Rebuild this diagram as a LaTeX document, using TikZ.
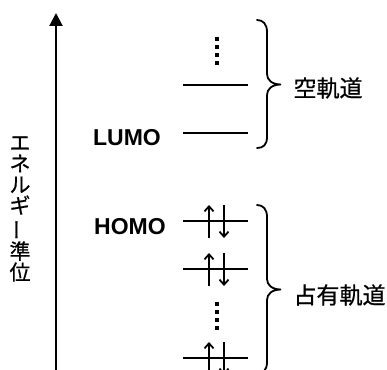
\documentclass[tikz,border=0pt]{standalone}
\usepackage{fontspec}
\setmainfont{Liberation Sans}
\newfontfamily\jp[FakeBold=0.6]{Noto Sans CJK JP}
\usetikzlibrary{arrows.meta}
\begin{document}
\begin{tikzpicture}[x=1pt,y=-1pt,
  level/.style={line width=2.4pt},
  spin/.style={line width=2pt,-{Straight Barb[length=5pt,width=9pt,line width=1.8pt]}},
  vdots/.style={line width=4pt,dash pattern=on 4pt off 4pt},
  brace/.style={line width=1.8pt,line cap=round},
  mo/.style={font=\fontsize{23}{23}\selectfont\bfseries},
  jplabel/.style={font=\jp\fontsize{23}{23}\selectfont},
  axis/.style={line width=2.2pt,-{Triangle[length=13pt,width=13pt]}}]
\useasboundingbox (0,0) rectangle (387,369);
% energy axis
\coordinate (axbot) at (56,372);
\coordinate (axtop) at (56,13);
\draw[axis] (axbot) -- (axtop);
\node[font=\jp\fontsize{21}{21}\selectfont,align=center,inner sep=0pt] (elabel) at (20,209)
  {エ\\ネ\\ル\\ギ\\\rotatebox[origin=c]{90}{ー}\\準\\位};
% unoccupied levels
\coordinate (u1a) at (183,85);  \coordinate (u1b) at (248,85);
\coordinate (u2a) at (183,133); \coordinate (u2b) at (248,133);
\draw[level] (u1a) -- (u1b);
\draw[level] (u2a) -- (u2b);
\coordinate (d1a) at (216.7,37); \coordinate (d1b) at (216.7,65);
\draw[vdots] (d1a) -- (d1b);
\node[mo,anchor=center] (lumo) at (127,137.5) {LUMO};
% occupied levels
\foreach \n/\y in {o1/221,o2/269,o3/358}{
  \coordinate (\n a) at (183,\y); \coordinate (\n b) at (248,\y);
  \draw[level] (\n a) -- (\n b);
  \coordinate (\n up0) at (209,\y+17); \coordinate (\n up1) at (209,\y-16);
  \coordinate (\n dn0) at (224,\y-16); \coordinate (\n dn1) at (224,\y+17);
  \draw[spin] (\n up0) -- (\n up1);
  \draw[spin] (\n dn0) -- (\n dn1);
}
\coordinate (d2a) at (216.7,302); \coordinate (d2b) at (216.7,330);
\draw[vdots] (d2a) -- (d2b);
\node[mo,anchor=center] (homo) at (130,227) {HOMO};
% braces
\draw[brace] (257,20) .. controls (263,20) and (267,24) .. (267,32) -- (267,74)
  .. controls (267,80) and (272,84.5) .. (281,84.5)
  .. controls (272,84.5) and (267,89) .. (267,95) -- (267,137)
  .. controls (267,145) and (263,148) .. (257,148);
\node[jplabel,anchor=west] (empty) at (290,88) {空軌道};
\draw[brace] (257,205) .. controls (263,205) and (267,209) .. (267,217) -- (267,279)
  .. controls (267,285) and (272,289.5) .. (281,289.5)
  .. controls (272,289.5) and (267,294) .. (267,300) -- (267,362)
  .. controls (267,370) and (263,374) .. (257,374);
\node[jplabel,anchor=west] (occ) at (290,295) {占有軌道};
\end{tikzpicture}
\end{document}
